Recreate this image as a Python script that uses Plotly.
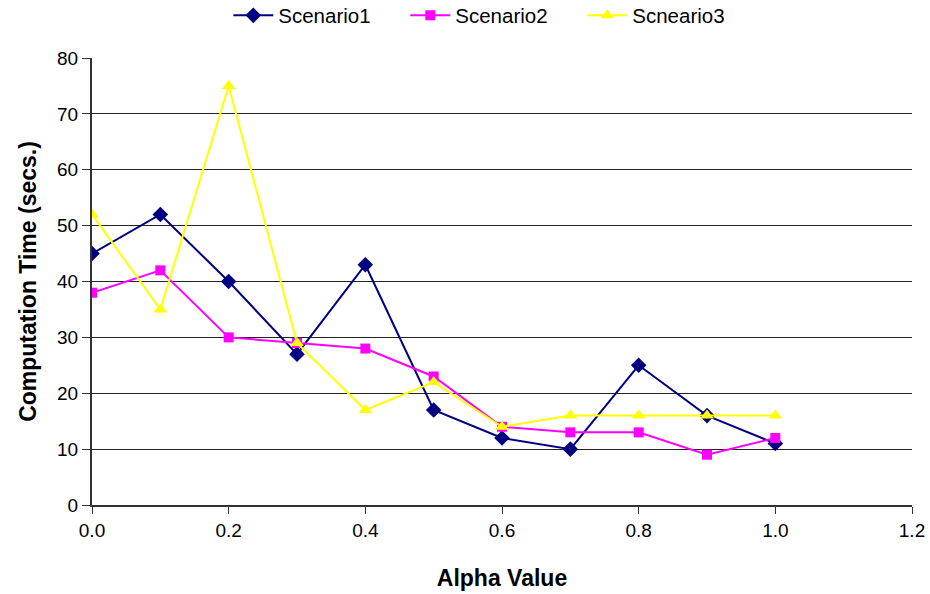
import plotly.graph_objects as go

alpha = [0.0, 0.1, 0.2, 0.3, 0.4, 0.5, 0.6, 0.7, 0.8, 0.9, 1.0]
scenario1 = [45, 52, 40, 27, 43, 17, 12, 10, 25, 16, 11]
scenario2 = [38, 42, 30, 29, 28, 23, 14, 13, 13, 9, 12]
scenario3 = [52, 35, 75, 29, 17, 22, 14, 16, 16, 16, 16]

series = [
    ("Scenario1", scenario1, "#000080", "diamond", 12),
    ("Scenario2", scenario2, "#FF00FF", "square", 10),
    ("Scneario3", scenario3, "#FFFF00", "triangle-up", 12),
]

fig = go.Figure()
for name, vals, color, sym, sz in series:
    fig.add_trace(go.Scatter(
        x=alpha, y=vals, name=name, mode="lines+markers",
        line=dict(color=color, width=2),
        marker=dict(symbol=sym, size=sz, color=color, line=dict(width=0)),
    ))

fig.update_layout(
    width=930, height=594,
    margin=dict(l=92, r=18, t=58, b=89, autoexpand=False),
    paper_bgcolor="white", plot_bgcolor="white",
    font=dict(family="Liberation Sans, Arial, sans-serif", size=19, color="black"),
    showlegend=True,
    legend=dict(orientation="h", x=0.49, xanchor="center", y=1.095, yanchor="middle",
                font=dict(size=20.5), itemwidth=40, entrywidth=122),
    xaxis=dict(
        range=[0, 1.2], dtick=0.2, tick0=0, tickformat=".1f",
        showgrid=False, zeroline=False,
        showline=True, linecolor="#333333", linewidth=2,
        ticks="outside", ticklen=7, tickcolor="#333333",
        title=dict(text="<b>Alpha Value</b>", font=dict(size=23), standoff=30),
    ),
    yaxis=dict(
        range=[0, 80], dtick=10, tick0=0,
        showgrid=True, gridcolor="#222222", gridwidth=1,
        zeroline=False,
        showline=True, linecolor="#333333", linewidth=2,
        ticks="outside", ticklen=8, tickcolor="#333333",
        title=dict(text="<b>Computation Time (secs.)</b>", font=dict(size=23), standoff=14),
    ),
)

fig.write_html("out.html")
